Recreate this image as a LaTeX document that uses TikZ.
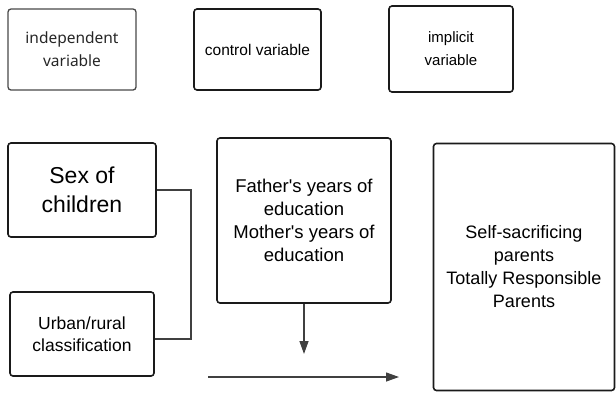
\documentclass[tikz,border=0pt]{standalone}
\usepackage{fontspec}
\setmainfont{Liberation Sans}
\newfontfamily\uifont{Noto Sans}
\usetikzlibrary{arrows.meta}
\definecolor{edge}{HTML}{1A1A1A}
\definecolor{wire}{HTML}{404040}
\begin{document}
\begin{tikzpicture}[x=1pt, y=-1pt,
        box/.style={draw=edge, line width=1.6pt, rounded corners=3pt, align=center, inner sep=2pt},
        wire/.style={draw=wire, line width=1.3pt},
        tip/.style={-{Triangle[length=13pt, width=9pt]}}]
    \useasboundingbox (0,0) rectangle (616,392);
    % Headings
    \node[box, draw=edge!80, line width=1.3pt, text=black!85, minimum width=128pt, minimum height=81pt,
          font=\uifont\fontsize{15.5}{23}\selectfont] (indep) at (72,49.5) {independent\\variable};
    \node[box, minimum width=127pt, minimum height=81pt,
          font=\fontsize{15.5}{23}\selectfont] (ctrl) at (257.5,49.5) {control variable};
    \node[box, minimum width=124pt, minimum height=86pt,
          font=\fontsize{15}{23}\selectfont] (impl) at (451,49) {implicit\\variable};
    % Variables
    \node[box, minimum width=148pt, minimum height=94pt,
          font=\fontsize{23}{29}\selectfont] (sex) at (82,190) {Sex of\\children};
    \node[box, minimum width=144pt, minimum height=84pt,
          font=\fontsize{17.5}{22}\selectfont] (urban) at (82,334) {Urban/rural\\classification};
    \node[box, minimum width=174pt, minimum height=165pt,
          font=\fontsize{18.5}{23}\selectfont] (father) at (304,220.5)
          {Father\textquotesingle s years of\\education\\Mother\textquotesingle s years of\\education};
    \node[box, minimum width=181pt, minimum height=247pt,
          font=\fontsize{18}{23}\selectfont] (parents) at (524,267)
          {Self-sacrificing\\parents\\Totally Responsible\\Parents};
    % Connectors
    \coordinate (join) at (191,339);
    \coordinate (drop) at (304,354);
    \coordinate (from) at (208,377);
    \coordinate (to) at (399,377);
    \draw[wire] (sex.east) -| (join) -- (join -| urban.east);
    \draw[wire, tip] (father.south) -- (drop);
    \draw[wire, tip] (from) -- (to);
\end{tikzpicture}
\end{document}
